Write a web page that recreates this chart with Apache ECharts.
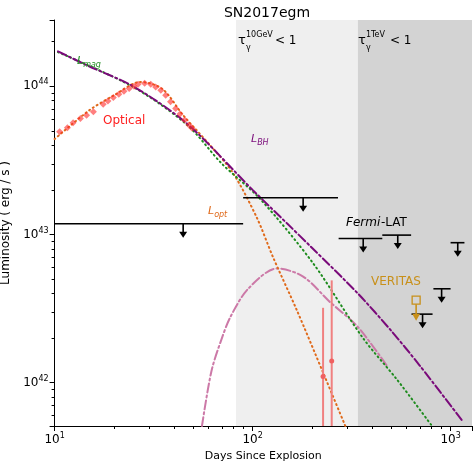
<!DOCTYPE html>
<html><head><meta charset="utf-8">
<script src="https://cdn.jsdelivr.net/npm/echarts@6/dist/echarts.min.js"></script>
<style>html,body{margin:0;padding:0;background:#fff}#c{width:473px;height:466px}</style>
</head><body><div id="c"></div>
<script>
// ---- data ----
const LBH = [[10.4,1.72e44],[15,1.36e44],[24.9,1.0e44],[46.6,5.6e43],[100,2.0e43],[150,1.18e43],[200,8.1e42],[340,4.0e42],[500,2.25e42],[700,1.3e42],[1150,5.5e41]];
const LMAG = [[10.4,1.7e44],[24.9,9.9e43],[46.6,5.5e43],[70,3.0e43],[109,1.74e43],[202,6.4e42],[361,2.0e42],[536,1.05e42],[806,5.1e41]];
const LOPT = [[10,4.4e43],[15,6.9e43],[20,8.7e43],[27.1,1.07e44],[35,9.6e43],[44.5,6.4e43],[60,4.1e43],[79.6,2.6e43],[105,1.3e43],[127,7.0e42],[167,3.1e42],[227,1.17e42],[294,5.1e41]];
const LGAMMA = [[55.5,5.1e41],[62,1.2e42],[70,2.0e42],[77.5,2.8e42],[95,4.3e42],[133,5.9e42],[180,5.2e42],[246,3.5e42],[338,2.4e42],[477,1.3e42]];
const OPTICAL = [[10.6,4.93e43],[11.6,5.25e43],[12.4,5.67e43],[13.5,6.07e43],[14.5,6.38e43],[15.7,6.73e43],[17.6,7.57e43],[18.6,7.96e43],[19.8,8.39e43],[21.1,8.83e43],[22.4,9.25e43],[23.8,9.66e43],[25.2,1.0e44],[26.4,1.03e44],[28.5,1.05e44],[30.6,1.03e44],[32.4,9.9e43],[34.4,9.4e43],[36.4,8.7e43],[38.5,7.86e43],[40.9,7.08e43],[43.0,6.49e43],[45.4,5.92e43],[47.7,5.47e43],[49.5,5.2e43]];
const LATE = [[227,1.1e42,3.2e42],[251,1.4e42,4.9e42]]; // x, y, errTop
// upper limits: [xArrow, y, xStart, xEnd]
const ULIM = [[44.6,1.18e43,10,89.6],[180,1.77e43,89.6,270],[362,9.4e42,272,452],[541,9.9e42,452,632],[722,2.9e42,635,811],[901,4.3e42,819,1000],[1087,8.8e42,1000,1175]];
const VERITAS = [[670,3.6e42,2.7e42]];
const XMIN=10, XMAX=1283, YMIN=5.1e41, YMAX=2.8e44;
const BAND1=[82.5,340], BAND2=[340,1283];

const sup = v => { const e=Math.round(Math.log10(v)); return '{b|10}{s|'+e+'}'; };
const rich = {b:{fontSize:12,fontFamily:'DejaVu Sans',color:'#000'}, s:{fontSize:8,fontFamily:'DejaVu Sans',color:'#000',verticalAlign:'top',padding:[0,0,8,0]}};
const chart = echarts.init(document.getElementById('c'));
function line(data,color,dash,w){return {type:'line',data:data,showSymbol:false,smooth:0.3,lineStyle:{color:color,width:w||2,type:dash,cap:'round'},z:3,silent:true};}
const F='DejaVu Sans';
chart.setOption({
  animation:false,
  title:{text:'SN2017egm',left:262,top:1,textAlign:'center',textStyle:{fontFamily:F,fontWeight:'normal',fontSize:14,color:'#000'}},
  grid:{left:54.6,right:1,top:20,bottom:40,outerBoundsMode:'none',containLabel:false},
  xAxis:{type:'log',min:XMIN,max:XMAX,logBase:10,name:'Days Since Explosion',nameLocation:'middle',nameGap:25,
    nameTextStyle:{fontFamily:F,fontSize:11,color:'#000'},
    axisLine:{lineStyle:{color:'#000'}},axisTick:{inside:false,length:5,lineStyle:{color:'#000'}},splitLine:{show:false},
    minorTick:{show:true,splitNumber:9,length:3,lineStyle:{color:'#000'}},
    axisLabel:{formatter:sup,rich:rich,margin:6,showMaxLabel:false}},
  yAxis:{type:'log',min:YMIN,max:YMAX,logBase:10,name:'Luminosity ( erg / s )',nameLocation:'middle',nameGap:34,
    nameTextStyle:{fontFamily:F,fontSize:12,color:'#000'},
    axisLine:{show:true,lineStyle:{color:'#000'}},axisTick:{show:true,length:5,lineStyle:{color:'#000'}},splitLine:{show:false},
    minorTick:{show:true,splitNumber:9,length:3,lineStyle:{color:'#000'}},
    axisLabel:{formatter:sup,rich:rich,margin:6,showMinLabel:false,showMaxLabel:false}},
  series:[
    {type:'line',data:[],markArea:{silent:true,data:[[{xAxis:BAND1[0],itemStyle:{color:'#efefef'}},{xAxis:BAND1[1]}],[{xAxis:BAND2[0],itemStyle:{color:'#d3d3d3'}},{xAxis:BAND2[1]}]]},z:0},
    line(LGAMMA,'#cc79a7',[9,3,2,3],2),
    line(LOPT,'#e06a1b',[1,3.5],2),
    line(LMAG,'#1e8c1e',[1,3.5],2),
    line(LBH,'#7a0a7a',[9,3,2,3],2),
    {type:'scatter',data:OPTICAL,symbolSize:7,symbol:'diamond',itemStyle:{color:'#ff2a2a',opacity:0.6},z:4,silent:true},
    {type:'custom',z:4,silent:true,data:LATE,renderItem:(p,api)=>{const c=api.coord([api.value(0),api.value(1)]);const t=api.coord([api.value(0),api.value(2)]);const b=api.coord([api.value(0),YMIN]);
      return {type:'group',children:[{type:'line',shape:{x1:t[0],y1:t[1],x2:b[0],y2:b[1]},style:{stroke:'#f08080',lineWidth:2}},{type:'circle',shape:{cx:c[0],cy:c[1],r:2.5},style:{fill:'#f06060'}}]};}},
    {type:'custom',z:6,silent:true,data:ULIM,renderItem:(p,api)=>{const a=api.coord([api.value(0),api.value(1)]);const s=api.coord([api.value(2),api.value(1)]);const e=api.coord([api.value(3),api.value(1)]);
      return {type:'group',children:[{type:'line',shape:{x1:s[0],y1:s[1],x2:e[0],y2:e[1]},style:{stroke:'#000',lineWidth:1.6}},
        {type:'line',shape:{x1:a[0],y1:a[1],x2:a[0],y2:a[1]+12},style:{stroke:'#000',lineWidth:1.6}},
        {type:'polygon',shape:{points:[[a[0]-4,a[1]+8],[a[0]+4,a[1]+8],[a[0],a[1]+14]]},style:{fill:'#000'}}]};}},
    {type:'custom',z:6,silent:true,data:VERITAS,renderItem:(p,api)=>{const a=api.coord([api.value(0),api.value(1)]);const b=api.coord([api.value(0),api.value(2)]);
      return {type:'group',children:[{type:'rect',shape:{x:a[0]-4,y:a[1]-4,width:8,height:8},style:{fill:'none',stroke:'#c8901a',lineWidth:1.3}},
        {type:'line',shape:{x1:a[0],y1:a[1]+4,x2:b[0],y2:b[1]},style:{stroke:'#c8901a',lineWidth:1.6}},
        {type:'polygon',shape:{points:[[b[0]-4,b[1]-5],[b[0]+4,b[1]-5],[b[0],b[1]+2]]},style:{fill:'#c8901a'}}]};}}
  ],
  graphic:[
    {type:'text',z:100,left:77,top:56,style:{text:'{m|L}{sb|mag}',rich:{m:{fontSize:11,fontStyle:'italic',fill:'#1e8c1e',fontFamily:F},sb:{fontSize:8,fontStyle:'italic',fill:'#1e8c1e',fontFamily:F,padding:[6,0,0,0]}}}},
    {type:'text',z:100,left:103,top:115,style:{text:'Optical',fill:'#ff2020',fontSize:12,fontFamily:F}},
    {type:'text',z:100,left:251,top:134,style:{text:'{m|L}{sb|BH}',rich:{m:{fontSize:11,fontStyle:'italic',fill:'#7a0a7a',fontFamily:F},sb:{fontSize:8,fontStyle:'italic',fill:'#7a0a7a',fontFamily:F,padding:[6,0,0,0]}}}},
    {type:'text',z:100,left:208,top:206,style:{text:'{m|L}{sb|opt}',rich:{m:{fontSize:11,fontStyle:'italic',fill:'#e06a1b',fontFamily:F},sb:{fontSize:8,fontStyle:'italic',fill:'#e06a1b',fontFamily:F,padding:[6,0,0,0]}}}},
    {type:'text',z:100,left:346,top:217,style:{text:'Fermi',fill:'#000',fontSize:12,fontStyle:'italic',fontFamily:F}},
    {type:'text',z:100,left:381,top:217,style:{text:'-LAT',fill:'#000',fontSize:12,fontFamily:F}},
    {type:'text',z:100,left:371,top:276,style:{text:'VERITAS',fill:'#c8901a',fontSize:12,fontFamily:F}},
    {type:'text',z:100,left:238,top:34,style:{text:'τ',fill:'#000',fontSize:13,fontFamily:F}},
    {type:'text',z:100,left:246,top:44,style:{text:'γ',fill:'#000',fontSize:8,fontFamily:F}},
    {type:'text',z:100,left:246,top:31,style:{text:'10GeV',fill:'#000',fontSize:8,fontFamily:F}},
    {type:'text',z:100,left:275,top:35,style:{text:'< 1',fill:'#000',fontSize:12,fontFamily:F}},
    {type:'text',z:100,left:358,top:34,style:{text:'τ',fill:'#000',fontSize:13,fontFamily:F}},
    {type:'text',z:100,left:366,top:44,style:{text:'γ',fill:'#000',fontSize:8,fontFamily:F}},
    {type:'text',z:100,left:366,top:31,style:{text:'1TeV',fill:'#000',fontSize:8,fontFamily:F}},
    {type:'text',z:100,left:390,top:35,style:{text:'< 1',fill:'#000',fontSize:12,fontFamily:F}}
  ]
});
</script></body></html>
